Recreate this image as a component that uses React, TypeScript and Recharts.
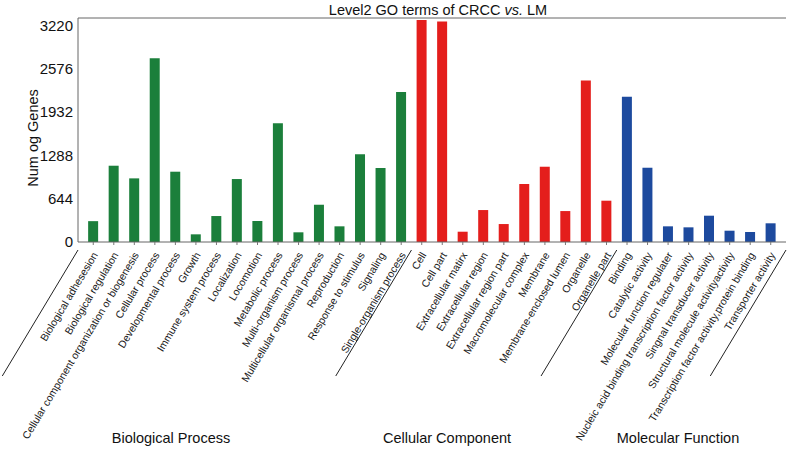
import { BarChart, Bar, XAxis, YAxis, Cell, ReferenceLine } from 'recharts';

const bioProcess = [
  'Biological adhesesion',
  'Biological regulation',
  'Cellular component organization or biogenesis',
  'Cellular process',
  'Developmental process',
  'Growth',
  'Immune system process',
  'Localization',
  'Locomotion',
  'Metabolic process',
  'Multi-organism process',
  'Multicellular organismal process',
  'Reproduction',
  'Response to stimulus',
  'Signaling',
  'Single-organism process',
];
const bioValues = [310, 1134, 946, 2730, 1045, 114, 386, 936, 312, 1764, 144, 554, 233, 1303, 1100, 2229];

const cellComponent = [
  'Cell',
  'Cell part',
  'Extracellular matirx',
  'Extracellular region',
  'Extracellular region part',
  'Macromolecular complex',
  'Membrane',
  'Membrane-enclosed lumen',
  'Organelle',
  'Organelle part',
];
const cellValues = [3299, 3279, 153, 475, 267, 862, 1119, 460, 2402, 614];

const molFunction = [
  'Binding',
  'Catalytic activity',
  'Molecular function regulater',
  'Nucleic acid binding transcription factor activity',
  'Singnal transducer activity',
  'Structural molecule activityactivity',
  'Transcription factor activity,protein binding',
  'Transporter activity',
];
const molValues = [2159, 1104, 233, 218, 391, 168, 149, 278];

const yTicks = [0, 644, 1288, 1932, 2576, 3220];
const groupNames = ['Biological Process', 'Cellular Component', 'Molecular Function'];

const GREEN = '#1b7f3b';
const RED = '#e41e1c';
const BLUE = '#1d4a9e';
const FONT = '"Liberation Sans", Arial, Helvetica, sans-serif';

const data = [
  ...bioProcess.map((name, i) => ({ name, value: bioValues[i], color: GREEN })),
  ...cellComponent.map((name, i) => ({ name, value: cellValues[i], color: RED })),
  ...molFunction.map((name, i) => ({ name, value: molValues[i], color: BLUE })),
];

const W = 788;
const H = 449;
const axisLeft = 78;
const axisBottom = 207;
const margin = { top: 18, right: 2, bottom: 0, left: 0 };
const pad = 5;
const band = (W - axisLeft - margin.right - 2 * pad) / data.length;
const groupStarts = [0, bioProcess.length, bioProcess.length + cellComponent.length];

// rotated category label plus the diagonal group separators
function CategoryTick(props: any) {
  const { x, y, payload, index } = props;
  const angle = 59;
  const rad = (angle * Math.PI) / 180;
  const lineDy = 126;
  const lineDx = lineDy / Math.tan(rad);
  let sepX: number | null = null;
  if (index === 0) sepX = x - band / 2 - pad;
  else if (groupStarts.includes(index)) sepX = x - band / 2;
  let endX: number | null = null;
  if (index === data.length - 1) endX = x + band / 2 + pad;
  return (
    <g>
      <text
        transform={`translate(${x + 5},${y + 8}) rotate(-${angle})`}
        textAnchor="end"
        fontSize={10.5}
        fontFamily={FONT}
        fill="#1a1a1a"
      >
        {payload.value}
      </text>
      {sepX !== null && (
        <line x1={sepX} y1={y + 3} x2={sepX - lineDx} y2={y + 3 + lineDy} stroke="#222" strokeWidth={1} />
      )}
      {endX !== null && (
        <line x1={endX} y1={y + 3} x2={endX - lineDx} y2={y + 3 + lineDy} stroke="#222" strokeWidth={1} />
      )}
    </g>
  );
}

export default function App() {
  return (
    <div style={{ position: 'absolute', left: 0, top: 0, width: W, height: H, background: '#fff', fontFamily: FONT }}>
      <BarChart width={W} height={H} data={data} margin={margin} barCategoryGap="25%">
        <XAxis
          dataKey="name"
          interval={0}
          padding={{ left: pad, right: pad }}
          tick={<CategoryTick />}
          tickSize={3}
          tickLine={{ stroke: '#777' }}
          axisLine={{ stroke: '#666' }}
          height={axisBottom}
        />
        <YAxis
          domain={[0, 3330]}
          ticks={yTicks}
          allowDataOverflow
          tickLine={false}
          tickSize={3}
          tickMargin={2}
          axisLine={{ stroke: '#666' }}
          tick={{ fontSize: 15, fill: '#111', fontFamily: FONT }}
          width={axisLeft}
        />
        <YAxis yAxisId="right" orientation="right" width={0} tick={false} tickLine={false} axisLine={{ stroke: '#666' }} />
        <ReferenceLine y={3330} stroke="#666" />
        <Bar dataKey="value" isAnimationActive={false}>
          {data.map((d, i) => (
            <Cell key={i} fill={d.color} />
          ))}
        </Bar>
      </BarChart>
      <div style={{ position: 'absolute', left: 0, width: 876, top: 2, textAlign: 'center', fontSize: 14.5, color: '#111', whiteSpace: 'nowrap' }}>
        Level2 GO terms of CRCC <i>vs.</i> LM
      </div>
      <div
        style={{
          position: 'absolute',
          left: 33,
          top: 138,
          transform: 'translate(-50%, -50%) rotate(-90deg)',
          fontSize: 14.5,
          color: '#111',
          whiteSpace: 'nowrap',
        }}
      >
        Num og Genes
      </div>
      {groupNames.map((g, i) => (
        <div
          key={g}
          style={{
            position: 'absolute',
            left: [171, 447, 678][i],
            top: 438,
            transform: 'translate(-50%, -50%)',
            fontSize: 14.5,
            color: '#111',
            whiteSpace: 'nowrap',
          }}
        >
          {g}
        </div>
      ))}
    </div>
  );
}
